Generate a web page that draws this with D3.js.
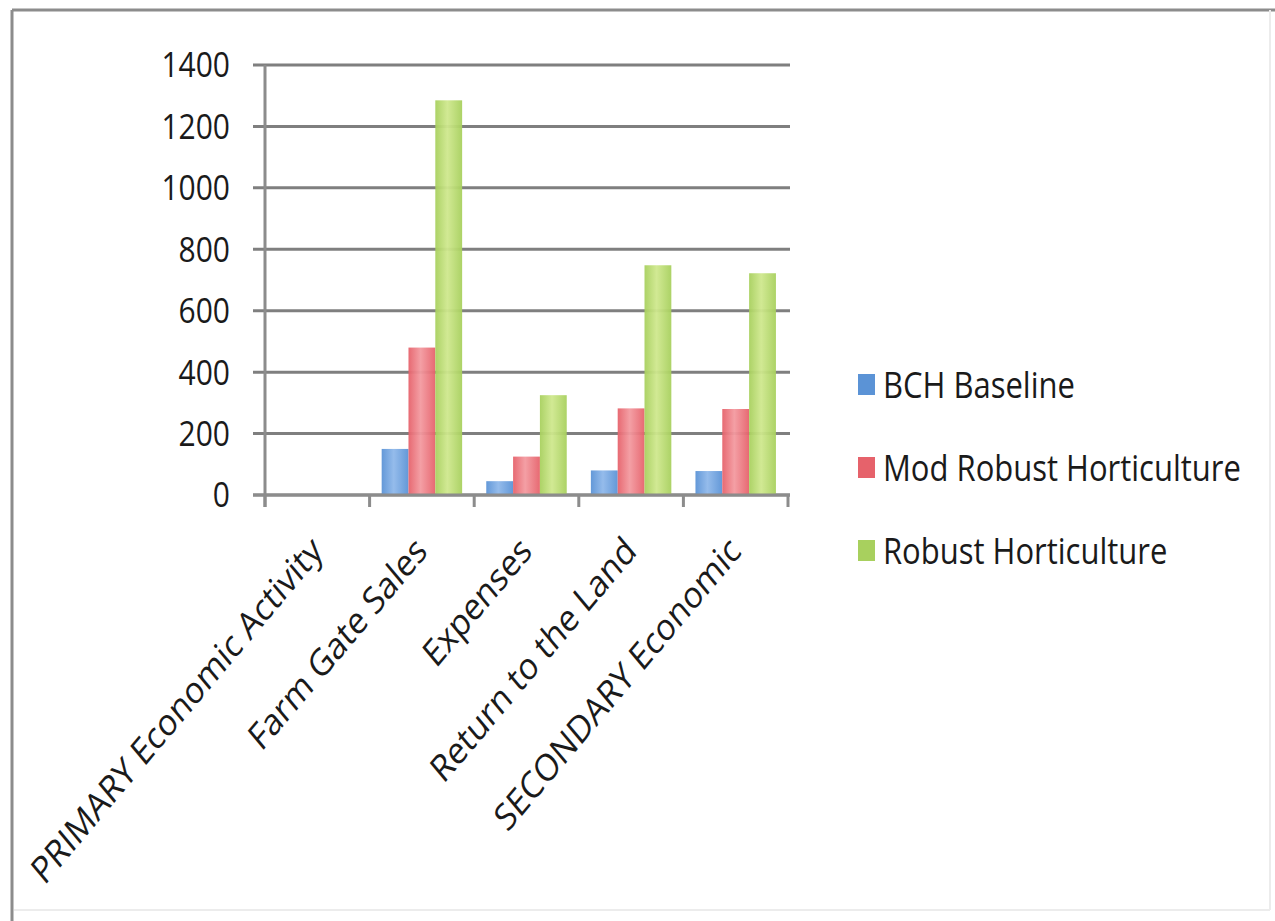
<!DOCTYPE html><html>
<head>
<meta charset="utf-8">
<style>
  body { margin: 0; background: #fff; }
  svg { font-family: "Open Sans", sans-serif; }
</style>
</head><body>
<svg width="1275" height="921"></svg>

<script src="https://cdn.jsdelivr.net/npm/d3@7"></script>
<script>
// data
var categories = ['PRIMARY Economic Activity', 'Farm Gate Sales', 'Expenses', 'Return to the Land', 'SECONDARY Economic'];
var seriesNames = ['BCH Baseline', 'Mod Robust Horticulture', 'Robust Horticulture'];
var bchBaseline = [0, 150, 45, 80, 78];
var modRobust   = [0, 480, 125, 282, 280];
var robust      = [0, 1285, 325, 748, 722];
var yTicks = [0, 200, 400, 600, 800, 1000, 1200, 1400];
var colors = ['#5b93d6', '#e6626b', '#a8d05e'];
var lights = ['#8fb8ea', '#f39aa0', '#cfe88e'];

var values = [bchBaseline, modRobust, robust];
var svg = d3.select('svg');
var stretch = 1.15; // the source picture is a bit taller than wide

// frame
svg.append('line').attr('x1', 12).attr('x2', 1275).attr('y1', 10).attr('y2', 10)
  .attr('stroke', '#8c8c8c').attr('stroke-width', 3);
svg.append('line').attr('x1', 12).attr('x2', 12).attr('y1', 10).attr('y2', 921)
  .attr('stroke', '#8c8c8c').attr('stroke-width', 3);
svg.append('line').attr('x1', 1270).attr('x2', 1270).attr('y1', 10).attr('y2', 910)
  .attr('stroke', '#ececec').attr('stroke-width', 2);
svg.append('line').attr('x1', 14).attr('x2', 1270).attr('y1', 910).attr('y2', 910)
  .attr('stroke', '#ececec').attr('stroke-width', 2);

var x = d3.scaleBand().domain(categories).range([265, 788]).paddingInner(0).paddingOuter(0);
var xs = d3.scaleBand().domain(d3.range(3)).range([0, x.bandwidth()]).paddingInner(0).paddingOuter(0.45);
var y = d3.scaleLinear().domain([0, 1400]).range([495, 65]);

// gradients like the old office bars
var defs = svg.append('defs');
colors.forEach(function(c, i) {
  var g = defs.append('linearGradient').attr('id', 'g' + i).attr('x1', 0).attr('x2', 1).attr('y1', 0).attr('y2', 0);
  g.append('stop').attr('offset', '0%').attr('stop-color', c);
  g.append('stop').attr('offset', '45%').attr('stop-color', lights[i]);
  g.append('stop').attr('offset', '100%').attr('stop-color', c);
});

// gridlines
svg.append('g').selectAll('line').data(yTicks).enter().append('line')
  .attr('x1', 253).attr('x2', 790)
  .attr('y1', function(d) { return y(d); }).attr('y2', function(d) { return y(d); })
  .attr('stroke', '#7f7f7f').attr('stroke-width', 3);

// y axis
svg.append('line').attr('x1', 265).attr('x2', 265).attr('y1', y(1400)).attr('y2', 507)
  .attr('stroke', '#8c8c8c').attr('stroke-width', 3);
svg.append('g').selectAll('text').data(yTicks).enter().append('text')
  .attr('transform', function(d) { return 'translate(230,' + y(d) + ') scale(1,' + stretch + ')'; })
  .attr('dy', '0.36em').attr('text-anchor', 'end')
  .attr('font-size', 30).attr('fill', '#1a1a1a')
  .text(function(d) { return d; });

// bars
var groups = svg.append('g').selectAll('g').data(categories).enter().append('g')
  .attr('transform', function(d) { return 'translate(' + x(d) + ',0)'; });
groups.selectAll('rect')
  .data(function(d, ci) { return values.map(function(v, si) { return { s: si, v: v[ci] }; }); })
  .enter().append('rect')
  .attr('x', function(d) { return xs(d.s); })
  .attr('width', xs.bandwidth())
  .attr('y', function(d) { return y(d.v); })
  .attr('height', function(d) { return y(0) - y(d.v); })
  .attr('fill', function(d) { return 'url(#g' + d.s + ')'; })
  .attr('opacity', 0.95);

// x axis line and ticks
svg.append('line').attr('x1', 253).attr('x2', 790).attr('y1', y(0)).attr('y2', y(0))
  .attr('stroke', '#8c8c8c').attr('stroke-width', 3);
var tickX = categories.map(function(c) { return x(c); }).concat([x.range()[1]]);
svg.append('g').selectAll('line').data(tickX).enter().append('line')
  .attr('x1', function(d) { return d; }).attr('x2', function(d) { return d; })
  .attr('y1', y(0)).attr('y2', y(0) + 12)
  .attr('stroke', '#8c8c8c').attr('stroke-width', 3);

// rotated category labels
svg.append('g').selectAll('text').data(categories).enter().append('text')
  .attr('transform', function(d) {
    return 'translate(' + (x(d) + x.bandwidth() / 2 + 7) + ',553) scale(1,1.19) rotate(-45)';
  })
  .attr('text-anchor', 'end').attr('font-size', 31.5).attr('fill', '#1a1a1a')
  .text(function(d) { return d; });

// legend
var legend = svg.append('g').selectAll('g').data(seriesNames).enter().append('g')
  .attr('transform', function(d, i) { return 'translate(858,' + (385 + i * 83) + ')'; });
legend.append('rect').attr('x', 0).attr('y', -11).attr('width', 17).attr('height', 21)
  .attr('fill', function(d, i) { return colors[i]; });
legend.append('text')
  .attr('transform', 'translate(25,0) scale(1,' + stretch + ')')
  .attr('dy', '0.36em')
  .attr('font-size', 31).attr('fill', '#1a1a1a')
  .text(function(d) { return d; });
</script>
</body></html>
